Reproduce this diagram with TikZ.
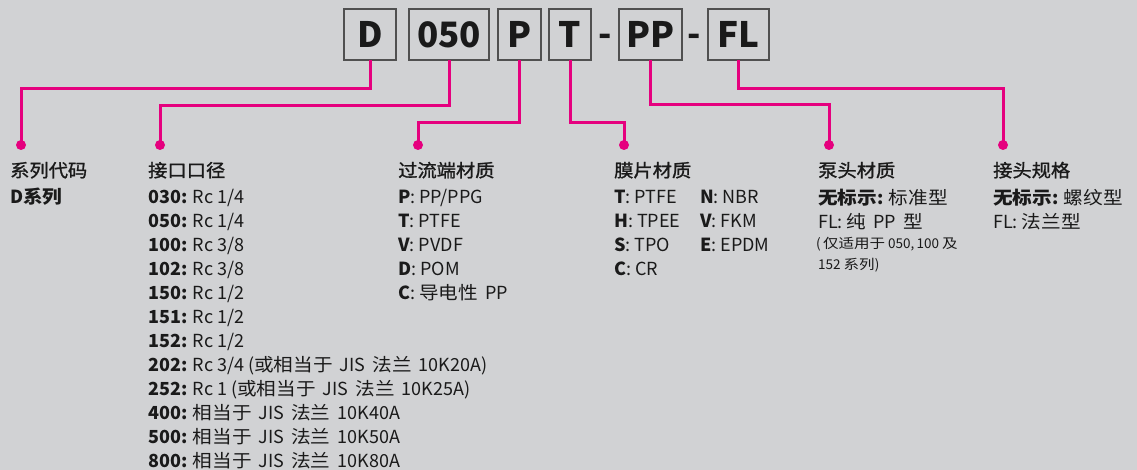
\documentclass[tikz,border=0pt]{standalone}
\usepackage{fontspec}
\setmainfont{Noto Sans CJK SC}
\newfontfamily\ttlfont{Noto Sans CJK SC}[FakeBold=1.3, FakeStretch=1.07]
\definecolor{bg}{HTML}{D1D2D4}
\definecolor{mag}{HTML}{E5007E}
\definecolor{ink}{HTML}{1A1A1A}
\definecolor{boxline}{HTML}{505050}
\newcommand{\gp}{\hspace{7pt}}
\newcommand{\cj}[1]{{\addfontfeature{FakeStretch=1.09}#1}}
\begin{document}
\begin{tikzpicture}[x=1pt,y=-1pt,
 codebox/.style={draw=boxline, line width=1.3pt, minimum height=51pt, inner sep=0pt, outer sep=0pt, font=\fontsize{35}{40}\selectfont\bfseries, text=ink},
 hyph/.style={anchor=base, inner sep=0pt, font=\fontsize{35}{40}\selectfont\bfseries, text=ink},
 link/.style={draw=mag, line width=3pt},
 dot/.style={circle, fill=mag, minimum size=10pt, inner sep=0pt},
 txt/.style={anchor=base west, inner sep=0pt, text=ink, font=\fontsize{18}{22}\selectfont},
 ttl/.style={txt, font=\fontsize{18}{22}\selectfont\ttlfont},
 note/.style={txt, font=\fontsize{13.5}{16}\selectfont}]
\fill[bg] (0,0) rectangle (1137,470);
\useasboundingbox (0,0) rectangle (1137,470);
% code boxes
\node[codebox, minimum width=52pt] (bD) at (370,34.5) {D};
\node[codebox, minimum width=80pt] (b050) at (449,34.5) {050};
\node[codebox, minimum width=43pt] (bP) at (519.5,34.5) {P};
\node[codebox, minimum width=42pt] (bT) at (570,34.5) {T};
\node[hyph] (h1) at (605,47) {-};
\node[codebox, minimum width=63pt] (bPP) at (650.5,34.5) {PP};
\node[hyph] (h2) at (694,47) {-};
\node[codebox, minimum width=61pt] (bFL) at (738.5,34.5) {FL};
% dots
\node[dot] (dD) at (21,145) {};
\node[dot] (d050) at (160,145) {};
\node[dot] (dP) at (418,145) {};
\node[dot] (dT) at (624,145) {};
\node[dot] (dPP) at (829,145) {};
\node[dot] (dFL) at (1003,145) {};
% connectors
\draw[link] (bD.south) -- ++(0,29) -| (dD.center);
\draw[link] (b050.south) -- ++(0,46) -| (d050.center);
\draw[link] (bP.south) -- ++(0,63) -| (dP.center);
\draw[link] (bT.south) -- ++(0,63) -| (dT.center);
\draw[link] (bPP.south) -- ++(0,45) -| (dPP.center);
\draw[link] (bFL.south) -- ++(0,29) -| (dFL.center);
% column 1
\node[ttl] (c1t) at (10,177) {系列代码};
\node[txt] (c1a) at (10,203.5) {\textbf{D\cj{系列}}};
% column 2
\node[ttl] (c2t) at (148,177) {接口口径};
\node[txt] (c2a) at (148,203.5) {\textbf{030:} Rc 1/4};
\node[txt] (c2b) at (148,227.5) {\textbf{050:} Rc 1/4};
\node[txt] (c2c) at (148,251.5) {\textbf{100:} Rc 3/8};
\node[txt] (c2d) at (148,275.5) {\textbf{102:} Rc 3/8};
\node[txt] (c2e) at (148,299.5) {\textbf{150:} Rc 1/2};
\node[txt] (c2f) at (148,323.5) {\textbf{151:} Rc 1/2};
\node[txt] (c2g) at (148,347.5) {\textbf{152:} Rc 1/2};
\node[txt] (c2h) at (148,371.5) {\textbf{202:} Rc 3/4 (\cj{或相当于}\gp JIS\gp \cj{法兰}\gp 10K20A)};
\node[txt] (c2i) at (148,395.5) {\textbf{252:} Rc 1 (\cj{或相当于}\gp JIS\gp \cj{法兰}\gp 10K25A)};
\node[txt] (c2j) at (148,419.5) {\textbf{400:} \cj{相当于}\gp JIS\gp \cj{法兰}\gp 10K40A};
\node[txt] (c2k) at (148,443.5) {\textbf{500:} \cj{相当于}\gp JIS\gp \cj{法兰}\gp 10K50A};
\node[txt] (c2l) at (148,467.5) {\textbf{800:} \cj{相当于}\gp JIS\gp \cj{法兰}\gp 10K80A};
% column 3
\node[ttl] (c3t) at (398,177) {过流端材质};
\node[txt] (c3a) at (398,203.5) {\textbf{P}: PP/PPG};
\node[txt] (c3b) at (398,227.5) {\textbf{T}: PTFE};
\node[txt] (c3c) at (398,251.5) {\textbf{V}: PVDF};
\node[txt] (c3d) at (398,275.5) {\textbf{D}: POM};
\node[txt] (c3e) at (398,299.5) {\textbf{C}: \cj{导电性}\gp PP};
% column 4
\node[ttl] (c4t) at (614,177) {膜片材质};
\node[txt] (c4a) at (614,203.5) {\textbf{T}: PTFE};
\node[txt] (c4b) at (614,227.5) {\textbf{H}: TPEE};
\node[txt] (c4c) at (614,251.5) {\textbf{S}: TPO};
\node[txt] (c4d) at (614,275.5) {\textbf{C}: CR};
\node[txt] (c4e) at (700,203.5) {\textbf{N}: NBR};
\node[txt] (c4f) at (700,227.5) {\textbf{V}: FKM};
\node[txt] (c4g) at (700,251.5) {\textbf{E}: EPDM};
% column 5
\node[ttl] (c5t) at (818,177) {泵头材质};
\node[txt] (c5a) at (818,205) {\textbf{\cj{无标示}:} \cj{标准型}};
\node[txt] (c5b) at (818,229) {FL: \cj{纯}\gp PP\gp \cj{型}};
\node[note] (c5c) at (816,249) {(\,{\addfontfeature{FakeStretch=1.15}仅适用于} 050,\,100 {\addfontfeature{FakeStretch=1.15}及}};
\node[note] (c5d) at (818,269.5) {152 {\addfontfeature{FakeStretch=1.15}系列})};
% column 6
\node[ttl] (c6t) at (993,177) {接头规格};
\node[txt] (c6a) at (993,205) {\textbf{\cj{无标示}:} \cj{螺纹型}};
\node[txt] (c6b) at (993,229) {FL: \cj{法兰型}};
\end{tikzpicture}
\end{document}
